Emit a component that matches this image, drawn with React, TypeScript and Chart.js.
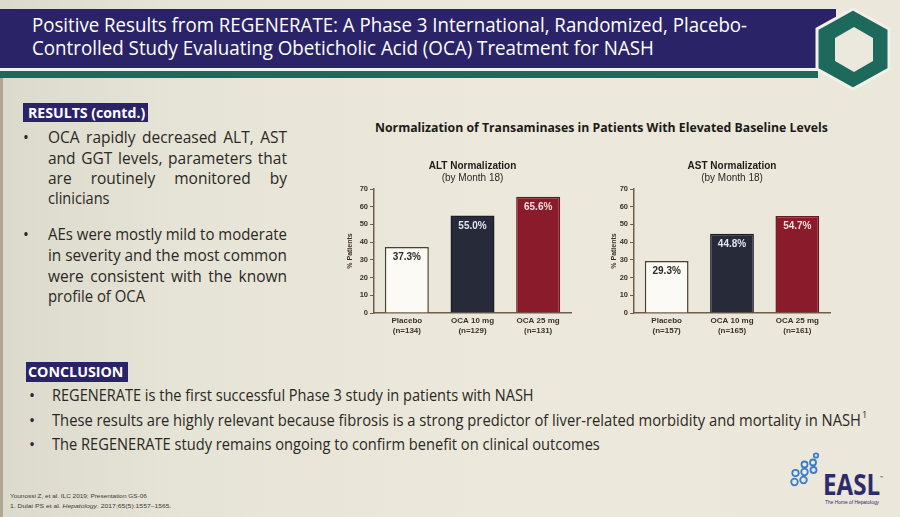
import React, { useEffect, useLayoutEffect, useRef } from "react";
import { Chart, registerables } from "chart.js";

Chart.register(...registerables);

// ---------- data ----------
const armLabels = ["Placebo", "OCA 10 mg", "OCA 25 mg"];
const altN = ["(n=134)", "(n=129)", "(n=131)"];
const astN = ["(n=157)", "(n=165)", "(n=161)"];
const altValues = [37.3, 55.0, 65.6];
const astValues = [29.3, 44.8, 54.7];
const yMin = 0;
const yMax = 70;
const yStep = 10;
const altTitle = "ALT Normalization";
const astTitle = "AST Normalization";
const subtitleText = "(by Month 18)";
const yAxisTitle = "% Patients";
const chartHeading = "Normalization of Transaminases in Patients With Elevated Baseline Levels";

const titleLines = [
  "Positive Results from REGENERATE: A Phase 3 International, Randomized, Placebo-",
  "Controlled Study Evaluating Obeticholic Acid (OCA) Treatment for NASH",
];
const resultsLines = [
  "OCA rapidly decreased ALT, AST",
  "and GGT levels, parameters that",
  "are routinely monitored by",
  "clinicians",
  "AEs were mostly mild to moderate",
  "in severity and the most common",
  "were consistent with the known",
  "profile of OCA",
];
const conclusionLines = [
  "REGENERATE is the first successful Phase 3 study in patients with NASH",
  "These results are highly relevant because fibrosis is a strong predictor of liver-related morbidity and mortality in NASH",
  "The REGENERATE study remains ongoing to confirm benefit on clinical outcomes",
];

// ---------- styles ----------
const chartFont = "'Liberation Sans', Arial, sans-serif";
const slideFont = "'Liberation Sans Narrow', 'Open Sans', sans-serif";
const textColor = "#2b2824";
const purple = "#2b2367";
const teal = "#1d6a5c";
const axisColor = "#6e5f4c";
const tickColor = "#3b3129";
const barFill = ["#fbfaf4", "#272a38", "#8a1b2b"];
const barBorder = ["#4d3f33", "#1c1e28", "#6e1522"];
const labelColors = ["#2a2a2a", "#e2e5f0", "#f3dede"];

// ---------- text helpers ----------
function Fit(props: any) {
  const { x, baseline, size, width, bold, italic, color, font, children } = props;
  const ref = useRef<HTMLDivElement>(null);
  useLayoutEffect(() => {
    const el = ref.current;
    if (!el || !width) return;
    const w = el.offsetWidth;
    if (w > 0) el.style.transform = `scaleX(${width / w})`;
  }, [width]);
  return (
    <div
      ref={ref}
      style={{
        position: "absolute",
        left: x,
        top: baseline - 0.95 * size,
        fontSize: size,
        lineHeight: `${size * 1.2}px`,
        fontWeight: bold ? 700 : 400,
        fontStyle: italic ? "italic" : "normal",
        color: color || textColor,
        fontFamily: font || slideFont,
        whiteSpace: "nowrap",
        transformOrigin: "left top",
      }}
    >
      {children}
    </div>
  );
}

function JLine(props: any) {
  const { x, baseline, size, width, text, color } = props;
  const ref = useRef<HTMLDivElement>(null);
  useLayoutEffect(() => {
    const el = ref.current;
    if (!el) return;
    const spans = Array.from(el.children) as HTMLElement[];
    const sum = spans.reduce((a, s) => a + s.offsetWidth, 0);
    const need = sum + size * 0.25 * (spans.length - 1);
    if (need > width) {
      el.style.width = need + "px";
      el.style.transform = `scaleX(${width / need})`;
    }
  }, []);
  return (
    <div
      ref={ref}
      style={{
        position: "absolute",
        left: x,
        top: baseline - 0.95 * size,
        width,
        display: "flex",
        justifyContent: "space-between",
        fontSize: size,
        lineHeight: `${size * 1.2}px`,
        color: color || textColor,
        fontFamily: slideFont,
        whiteSpace: "nowrap",
        transformOrigin: "left top",
      }}
    >
      {text.split(" ").map((w: string, i: number) => (
        <span key={i}>{w}</span>
      ))}
    </div>
  );
}

// ---------- chart ----------
const valueLabelPlugin = {
  id: "valueLabels",
  afterDatasetsDraw(chart: any) {
    const ctx = chart.ctx;
    const meta = chart.getDatasetMeta(0);
    const data = chart.data.datasets[0].data;
    ctx.save();
    ctx.font = `bold 10px ${chartFont}`;
    ctx.textAlign = "center";
    ctx.textBaseline = "middle";
    meta.data.forEach((bar: any, i: number) => {
      ctx.fillStyle = labelColors[i];
      ctx.fillText(`${Number(data[i]).toFixed(1)}%`, bar.x, bar.y + 10.5);
    });
    ctx.restore();
  },
};

function BarPanel(props: any) {
  const { title, n, values, left, yTitlePad, padRight } = props;
  const ref = useRef<HTMLCanvasElement>(null);
  useEffect(() => {
    const chart = new Chart(ref.current as HTMLCanvasElement, {
      type: "bar",
      data: {
        labels: armLabels.map((a, i) => [a, n[i]]),
        datasets: [
          {
            data: values,
            backgroundColor: barFill,
            borderColor: barBorder,
            borderWidth: 1.5,
            barPercentage: 0.67,
            categoryPercentage: 1,
          },
        ],
      },
      options: {
        animation: false,
        responsive: false,
        devicePixelRatio: 1,
        layout: { padding: { left: 0, right: padRight, top: 0, bottom: 0 } },
        plugins: {
          legend: { display: false },
          tooltip: { enabled: false },
          title: {
            display: true,
            text: title,
            fullSize: false,
            color: "#1e1c1a",
            font: { family: chartFont, size: 10, weight: "bold", lineHeight: 1.2 },
            padding: { top: 10, bottom: 0 },
          },
          subtitle: {
            display: true,
            text: subtitleText,
            fullSize: false,
            color: "#2a2826",
            font: { family: chartFont, size: 10, weight: "normal", lineHeight: 1.2 },
            padding: { top: 0, bottom: 5 },
          },
        },
        scales: {
          x: {
            grid: { display: true, drawOnChartArea: false, drawTicks: false },
            border: { display: true, color: axisColor, width: 1.5 },
            ticks: {
              color: tickColor,
              font: { family: chartFont, size: 8, weight: "bold", lineHeight: 1.25 },
              padding: 3,
              maxRotation: 0,
              autoSkip: false,
            },
            afterFit: (s: any) => {
              s.height = 37;
            },
          },
          y: {
            min: yMin,
            max: yMax,
            ticks: {
              stepSize: yStep,
              color: tickColor,
              font: { family: chartFont, size: 7.5, weight: "bold" },
              padding: 2,
            },
            grid: {
              display: true,
              drawOnChartArea: false,
              drawTicks: true,
              tickLength: 4,
              color: axisColor,
              lineWidth: 1,
            },
            border: { display: true, color: axisColor, width: 1.5 },
            title: {
              display: true,
              text: yAxisTitle,
              color: tickColor,
              font: { family: chartFont, size: 7, weight: "bold", lineHeight: 1.2 },
              padding: { top: yTitlePad, bottom: 0 },
            },
            afterFit: (s: any) => {
              s.width = 44;
            },
          },
        },
      } as any,
      plugins: [valueLabelPlugin],
    });
    return () => chart.destroy();
  }, []);
  return (
    <canvas
      ref={ref}
      width={260}
      height={200}
      style={{ position: "absolute", left, top: 150, width: 260, height: 200 }}
    />
  );
}

// ---------- decorations ----------
function Hexagon() {
  return (
    <svg
      width={80}
      height={90}
      style={{ position: "absolute", left: 813, top: 4 }}
      viewBox="813 4 80 90"
    >
      <polygon
        points="853,9 889,29 889,69 853,89 817,69 817,29"
        fill={teal}
        stroke="#f2f0e8"
        strokeWidth={3}
      />
      <polygon points="854,27 873,38 873,61 854,72 835,61 835,38" fill="#ebe8dd" />
    </svg>
  );
}

function EaslLogo() {
  const rings = [
    [28, 4.5, 2.2],
    [16.5, 13.5, 3],
    [25, 11.5, 3],
    [7.5, 22, 3.2],
    [16.5, 21, 3.3],
    [25.5, 19, 3],
    [6.5, 31, 3.3],
    [15.5, 29, 3.3],
  ];
  return (
    <>
      <svg width={40} height={40} style={{ position: "absolute", left: 788, top: 451 }}>
        {rings.map((r, i) => (
          <circle key={i} cx={r[0]} cy={r[1]} r={r[2]} fill="#e4ebf0" stroke="#3b7cc4" strokeWidth={1.8} />
        ))}
      </svg>
      <Fit x={823} baseline={495} size={28} width={57} bold color="#2d2a6e">
        EASL
      </Fit>
      <Fit x={880} baseline={480} size={4} color="#2d2a6e">
        ™
      </Fit>
      <Fit x={825} baseline={504} size={4.5} width={54} color="#2d2a6e" font={chartFont}>
        The Home of Hepatology
      </Fit>
    </>
  );
}

export default function App() {
  const resultsBaselines = [143, 164, 184, 204, 240, 261, 282, 302];
  const justify = [true, true, true, false, true, true, true, false];
  const lastWidths: Record<number, number> = { 3: 62, 7: 97 };
  const conclBaselines = [401, 426, 450];
  const conclWidths = [482, 809, 548];

  return (
    <div
      style={{
        position: "fixed",
        left: 0,
        top: 0,
        width: 900,
        height: 517,
        overflow: "hidden",
        background:
          "linear-gradient(90deg, #dcd9cd 0%, #e6e3d7 20%, #ece9dc 55%, #ebe7da 100%)",
      }}
    >
      {/* left frame shadow */}
      <div style={{ position: "absolute", left: 0, top: 78, width: 3, height: 439, background: "#8b7c62", opacity: 0.55 }} />
      {/* title bar */}
      <div style={{ position: "absolute", left: 0, top: 9, width: 836, height: 59, background: purple }} />
      <div style={{ position: "absolute", left: 0, top: 68, width: 820, height: 3, background: "#f3f1ea" }} />
      <div style={{ position: "absolute", left: 0, top: 71, width: 818, height: 7, background: teal }} />
      <Hexagon />
      <Fit x={32} baseline={32} size={20} width={715} color="#ffffff">
        {titleLines[0]}
      </Fit>
      <Fit x={32} baseline={55} size={20} width={622} color="#ffffff">
        {titleLines[1]}
      </Fit>

      {/* results panel */}
      <div style={{ position: "absolute", left: 23, top: 103, width: 125, height: 19, background: purple }} />
      <Fit x={28} baseline={118} size={14} width={117} bold color="#ffffff">
        RESULTS (contd.)
      </Fit>
      <Fit x={23} baseline={143} size={15.5}>•</Fit>
      <Fit x={23} baseline={240} size={15.5}>•</Fit>
      {resultsLines.map((t, i) =>
        justify[i] ? (
          <JLine key={i} x={48} baseline={resultsBaselines[i]} size={15.5} width={239} text={t} />
        ) : (
          <Fit key={i} x={48} baseline={resultsBaselines[i]} size={15.5} width={lastWidths[i]}>
            {t}
          </Fit>
        )
      )}

      {/* chart heading + charts */}
      <Fit x={375} baseline={132} size={13} width={453} bold color="#1c1a18">
        {chartHeading}
      </Fit>
      <BarPanel title={altTitle} n={altN} values={altValues} left={330} yTitlePad={16} padRight={19} />
      <BarPanel title={astTitle} n={astN} values={astValues} left={590} yTitlePad={20} padRight={20} />

      {/* conclusion */}
      <div style={{ position: "absolute", left: 26, top: 362, width: 102, height: 20, background: purple }} />
      <Fit x={28} baseline={377} size={13.5} width={95} bold color="#ffffff">
        CONCLUSION
      </Fit>
      {conclusionLines.map((t, i) => (
        <React.Fragment key={i}>
          <Fit x={29} baseline={conclBaselines[i]} size={16}>•</Fit>
          <Fit x={52} baseline={conclBaselines[i]} size={17} width={conclWidths[i]}>
            {t}
          </Fit>
        </React.Fragment>
      ))}
      <Fit x={862} baseline={419} size={9}>1</Fit>

      {/* footnotes */}
      <Fit x={10} baseline={499} size={6} width={137} color="#3e3a35" font={chartFont}>
        Younossi Z, et al. ILC 2019; Presentation GS-06
      </Fit>
      <Fit x={10} baseline={509} size={6} width={161} color="#3e3a35" font={chartFont}>
        1. Dulai PS et al. <i>Hepatology</i>. 2017;65(5):1557–1565.
      </Fit>

      <EaslLogo />
    </div>
  );
}
